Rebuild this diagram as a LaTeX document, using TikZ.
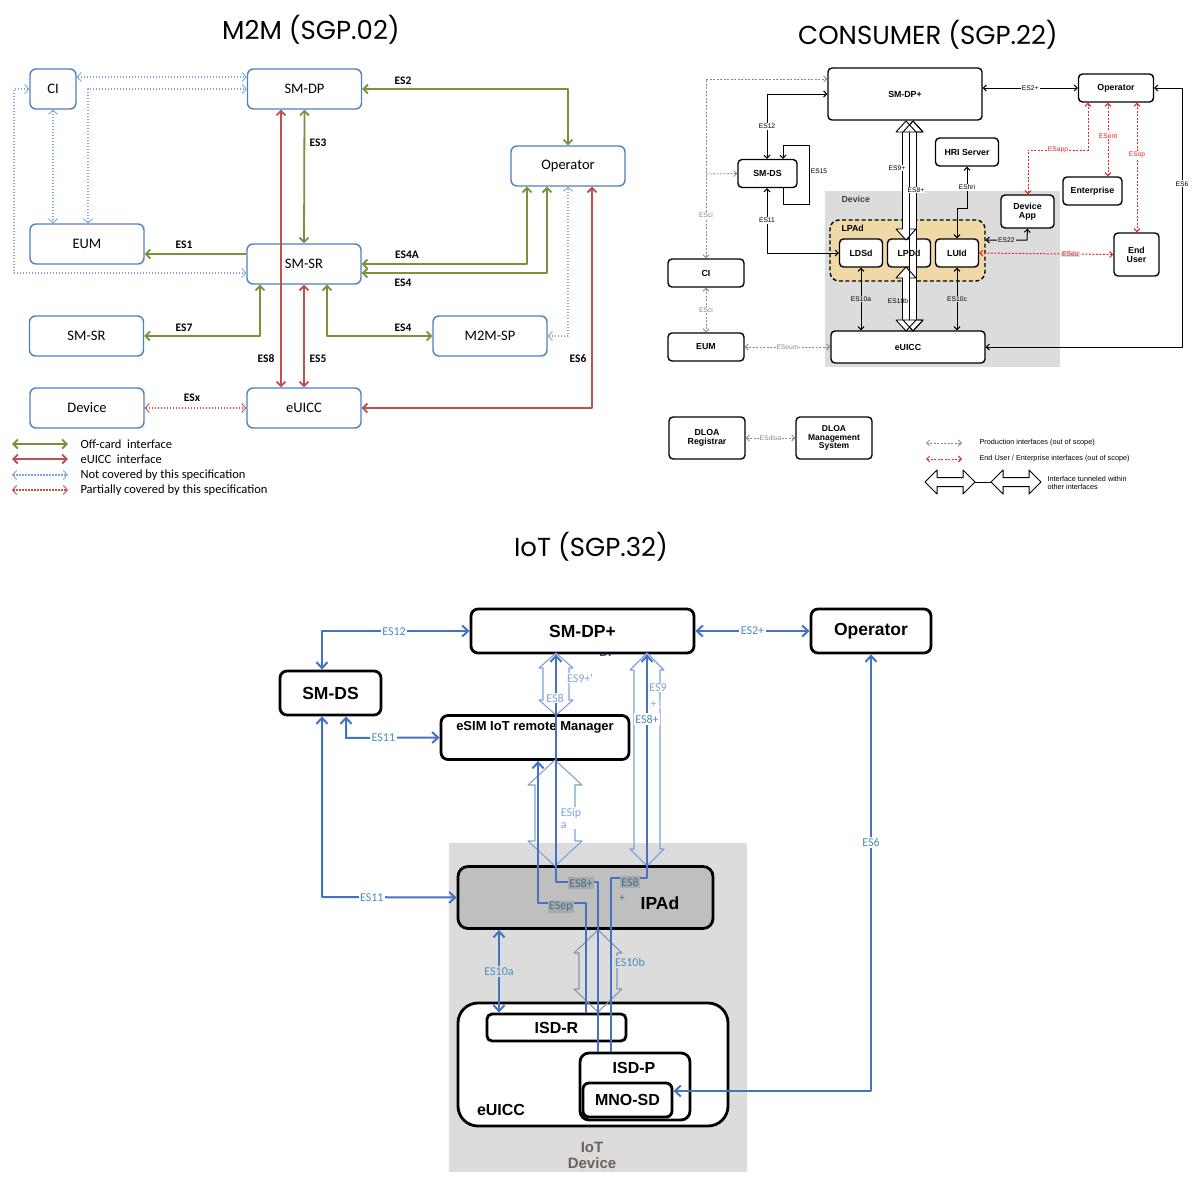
\documentclass[tikz,border=0pt]{standalone}
\usepackage{fontspec}
\setmainfont{Liberation Sans}
\newfontfamily\popf{Poppins}
\newfontfamily\carf{Carlito}
\usetikzlibrary{arrows.meta,calc}
\newcommand\fsz[1]{\fontsize{#1}{#1}\selectfont}
\definecolor{mblue}{HTML}{4F81BD}
\definecolor{mgreen}{HTML}{77933C}
\definecolor{mred}{HTML}{C0504D}
\definecolor{mdot}{HTML}{7FA6D6}
\definecolor{iblue}{HTML}{4472C4}
\definecolor{ilab}{HTML}{4A8DB8}
\definecolor{ihol}{HTML}{7FA2DA}
\definecolor{cgray}{HTML}{8A8A8A}
\definecolor{cred}{HTML}{E8262B}
\definecolor{lpadc}{HTML}{EFD9A6}
\definecolor{devgray}{HTML}{DCDCDC}
\definecolor{ipadc}{HTML}{BFBFBF}
\definecolor{tagc}{HTML}{A9A9A9}
\newcommand\hollowV[7][]{%
  \draw[#1] ({#2-#5},{#3+#7}) -- ({#2-#6},{#3+#7}) -- (#2,#3) -- ({#2+#6},{#3+#7}) -- ({#2+#5},{#3+#7})
   -- ({#2+#5},{#4-#7}) -- ({#2+#6},{#4-#7}) -- (#2,#4) -- ({#2-#6},{#4-#7}) -- ({#2-#5},{#4-#7}) -- cycle;}
\newcommand\hollowH[7][]{%
  \draw[#1] ({#3+#7},{#2-#5}) -- ({#3+#7},{#2-#6}) -- (#3,#2) -- ({#3+#7},{#2+#6}) -- ({#3+#7},{#2+#5})
   -- ({#4-#7},{#2+#5}) -- ({#4-#7},{#2+#6}) -- (#4,#2) -- ({#4-#7},{#2-#6}) -- ({#4-#7},{#2-#5}) -- cycle;}
\begin{document}
\begin{tikzpicture}[x=1pt,y=-1pt,line join=round]
\useasboundingbox (0,0) rectangle (1200,1183);
\fill[white] (0,0) rectangle (1200,1183);

% ---------- titles
\node[font=\popf\fsz{26}] (t1) at (311,30) {M2M (SGP.02)};
\node[font=\popf\fsz{26}] (t2) at (928,35) {CONSUMER (SGP.22)};
\node[font=\popf\fsz{26}] (t3) at (591,547) {IoT (SGP.32)};

% ================= M2M =================
\begin{scope}[>={Straight Barb[length=4.5pt,width=9pt]},
  mbox/.style={draw=mblue, line width=1.4pt, rounded corners=6pt, fill=white, minimum width=114pt, minimum height=40pt, inner sep=0pt, font=\carf\fsz{14.5}},
  mlab/.style={font=\carf\bfseries\fsz{11.5}},
  gl/.style={draw=mgreen, line width=1.8pt},
  rl/.style={draw=mred, line width=1.8pt},
  bdot/.style={draw=mdot, line width=1.2pt, dash pattern=on 1.6pt off 1.4pt, >={Straight Barb[length=4pt,width=9pt,line width=0.9pt]}},
  rdot/.style={draw=mred, line width=1.1pt, dash pattern=on 1.6pt off 1.4pt, >={Straight Barb[length=4pt,width=9pt,line width=0.9pt]}}]
\node[mbox, minimum width=46pt] (ci) at (53,89) {CI};
\node[mbox] (smdp) at (304.5,89) {SM-DP};
\node[mbox] (op) at (568,166) {Operator};
\node[mbox] (eum) at (87,244) {EUM};
\node[mbox] (smsr) at (304,264) {SM-SR};
\node[mbox] (smsr2) at (86.5,336) {SM-SR};
\node[mbox] (m2msp) at (490,336) {M2M-SP};
\node[mbox] (dev) at (87,408) {Device};
\node[mbox] (euicc) at (304,408) {eUICC};

\draw[bdot,<->] (ci.east |- 0,77) -- (smdp.west |- 0,77);
\draw[bdot,<->] (eum.north -| 88,0) -- (88,89) -- (smdp.west);
\draw[bdot,<->] (ci.south) -- (eum.north -| ci.south);
\draw[bdot,<->] (ci.west) -- (14,89) -- (14,273) -- (smsr.west |- 0,273);
\draw[bdot,<->] (m2msp.east) -- (568,336) -- (op.south);
\draw[rdot,<->] (dev.east) -- (euicc.west);

\draw[gl,<->] (smdp.east) -- (568,89) -- (op.north);
\draw[gl,<->] (smdp.south) -- (smsr.north);
\draw[gl,->] (smsr.west |- 0,254) -- (eum.east |- 0,254);
\draw[gl,<->] (smsr.east) -- (527,264) -- (op.south -| 527,0);
\draw[gl,<->] (smsr.east |- 0,273) -- (547,273) -- (op.south -| 547,0);
\draw[gl,<->] (smsr.south -| 260,0) -- (260,336) -- (smsr2.east);
\draw[gl,<->] (smsr.south -| 327,0) -- (327,336) -- (m2msp.west);
\draw[rl,<->] (smdp.south -| 281,0) -- (euicc.north -| 281,0);
\draw[rl,<->] (smsr.south) -- (euicc.north);
\draw[rl,<->] (euicc.east) -- (592,408) -- (op.south -| 592,0);

\node[mlab] (l_es2) at (403,81) {ES2};
\node[mlab] (l_es3) at (318,143) {ES3};
\node[mlab] (l_es1) at (184,245) {ES1};
\node[mlab] (l_es4a) at (407,255) {ES4A};
\node[mlab] (l_es4) at (403,283) {ES4};
\node[mlab] (l_es7) at (184,328) {ES7};
\node[mlab] (l_es4b) at (403,328) {ES4};
\node[mlab] (l_es8) at (266,359) {ES8};
\node[mlab] (l_es5) at (318,359) {ES5};
\node[mlab] (l_es6) at (578,359) {ES6};
\node[mlab] (l_esx) at (192,398) {ESx};

\coordinate (lg1a) at (12,444); \coordinate (lg1b) at (68,444);
\coordinate (lg2a) at (12,459); \coordinate (lg2b) at (68,459);
\coordinate (lg3a) at (12,475); \coordinate (lg3b) at (68,475);
\coordinate (lg4a) at (12,490); \coordinate (lg4b) at (68,490);
\draw[gl,<->] (lg1a) -- (lg1b);
\draw[rl,<->] (lg2a) -- (lg2b);
\draw[bdot,<->] (lg3a) -- (lg3b);
\draw[rdot,<->] (lg4a) -- (lg4b);
\node[anchor=west, font=\carf\fsz{12.5}] (lt1) at (77,444) {Off-card\ \ interface};
\node[anchor=west, font=\carf\fsz{12.5}] (lt2) at (77,459) {eUICC\ \ interface};
\node[anchor=west, font=\carf\fsz{12.5}] (lt3) at (77,475) {Not covered by this specification};
\node[anchor=west, font=\carf\fsz{12.5}] (lt4) at (77,490) {Partially covered by this specification};
\end{scope}

% ================= CONSUMER =================
\begin{scope}[>={Straight Barb[length=3pt,width=6pt]},
  cbox/.style={draw, line width=1.4pt, rounded corners=4pt, fill=white, inner sep=0pt, align=center, font=\bfseries\fsz{8.8}},
  cl/.style={draw, line width=1pt},
  clab/.style={font=\fsz{6.7}, fill=white, inner sep=1pt},
  gdash/.style={draw=cgray, line width=0.8pt, dash pattern=on 2pt off 1.5pt},
  rdash/.style={draw=cred, line width=1pt, dash pattern=on 2pt off 1.5pt}]
\node[fill=devgray, minimum width=235pt, minimum height=176pt, inner sep=0pt] (cdev) at (942.5,279) {};
\node[anchor=west, font=\bfseries\fsz{8.8}, text=black!75] (cdevl) at (838,199) {Device};
\node[draw, line width=1.4pt, dash pattern=on 4pt off 2.5pt, fill=lpadc, rounded corners=9pt, minimum width=155pt, minimum height=61pt, inner sep=0pt] (lpad) at (907.5,250.5) {};
\node[anchor=west, font=\bfseries\fsz{8.8}] (lpadl) at (838,228) {LPAd};

\node[cbox, minimum width=154pt, minimum height=52pt] (csmdp) at (905,94) {SM-DP+};
\node[cbox, minimum width=75pt, minimum height=28pt] (cop) at (1116,88) {Operator};
\node[cbox, minimum width=59pt, minimum height=28pt] (csmds) at (767.5,173.5) {SM-DS};
\node[cbox, minimum width=63pt, minimum height=28pt] (hri) at (967,152) {HRI Server};
\node[cbox, minimum width=59pt, minimum height=28pt] (ent) at (1092.5,191) {Enterprise};
\node[cbox, minimum width=53pt, minimum height=33pt] (dapp) at (1027.5,211.5) {Device\\App};
\node[cbox, minimum width=43pt, minimum height=28pt] (ldsd) at (861,253) {LDSd};
\node[cbox, minimum width=43pt, minimum height=28pt] (lpdd) at (909,253) {};
\node[cbox, minimum width=43pt, minimum height=28pt] (luid) at (957,253) {LUId};
\node[cbox, minimum width=76pt, minimum height=28pt] (cci) at (706,273) {CI};
\node[cbox, minimum width=76pt, minimum height=28pt] (ceum) at (706,347) {EUM};
\node[cbox, minimum width=154pt, minimum height=32pt] (ceuicc) at (908,347) {eUICC};
\node[cbox, minimum width=45pt, minimum height=43pt] (ceu) at (1136.5,254.5) {End\\User};
\node[cbox, minimum width=76pt, minimum height=42pt] (dreg) at (707,438) {DLOA\\Registrar};
\node[cbox, minimum width=76pt, minimum height=42pt, font=\bfseries\fsz{8.5}] (dman) at (834,438) {DLOA\\Management\\System};

% hollow tunnels
\hollowV[fill=white, line width=0.9pt]{913}{121}{331}{3.5}{10}{11}
\hollowV[fill=white, line width=0.9pt]{906}{121}{240}{3.5}{10}{11}
\hollowV[fill=white, line width=0.9pt]{906}{267}{331}{3.5}{10}{11}
\hollowV[line width=0.9pt]{913}{121}{331}{3.5}{10}{11}
\node[font=\bfseries\fsz{8.8}] (lpddl) at (lpdd) {LPDd};
\node[clab] (l_c9) at (897,168) {ES9+};
\node[clab] (l_c8) at (916,190) {ES8+};
\node[font=\fsz{6.7}] (l_c10b) at (898,301) {ES10b};

\draw[cl,<->] (csmdp.east |- cop.west) -- node[clab]{ES2+} (cop.west);
\draw[cl,<->] (cop.east) -- (1182,88) -- node[clab, pos=0.37]{ES6} (1182,347) -- (ceuicc.east);
\draw[cl,<->] (csmdp.west |- 0,94) -- (767,94) -- node[clab]{ES12} (csmds.north -| 767,0);
\draw[cl,->] (csmds.south -| 783,0) -- (783,204) -- (809,204) -- node[clab, pos=0.55, fill=none, xshift=10pt]{ES15} (809,145) -- (783,145) -- (csmds.north -| 783,0);
\draw[cl,<->] (csmds.south -| 767,0) -- node[clab, pos=0.5]{ES11} (767,253) -- (ldsd.west);
\draw[cl,<->] (hri.south) -- node[clab]{EShri} (967,208) -- (957,208) -- (luid.north);
\draw[cl,<->] (ldsd.south) -- node[font=\fsz{6.7}, fill=devgray, inner sep=1pt]{ES10a} (ceuicc.north -| ldsd.south);
\draw[cl,<->] (luid.south) -- node[font=\fsz{6.7}, fill=devgray, inner sep=1pt]{ES10c} (ceuicc.north -| luid.south);
\draw[cl,<->] (dapp.south) -- (1027,240) -- node[clab, fill=devgray]{ES22} (lpad.east |- 0,240);

\draw[gdash,<->] (cci.north) -- node[clab, text=cgray, pos=0.24]{ESci} (706,79) -- (csmdp.west |- 0,79);
\draw[gdash,->] (706,174) -- (csmds.west);
\draw[gdash,<->] (cci.south) -- node[clab, text=cgray]{ESci} (ceum.north);
\draw[gdash,<->] (ceum.east) -- node[clab, text=cgray]{ESeum} (ceuicc.west);
\draw[gdash,<->] (dreg.east) -- node[clab, text=cgray]{ESdloa} (dman.west);

\draw[rdash,<->] (cop.south -| 1088,0) -- (1088,150) -- node[clab, text=cred]{ESapp} (1028,150) -- (dapp.north -| 1028,0);
\draw[rdash,<->] (cop.south -| 1108,0) -- node[clab, text=cred, pos=0.45]{ESent} (ent.north -| 1108,0);
\draw[rdash,<->] (cop.south -| 1137,0) -- node[clab, text=cred, pos=0.4]{ESop} (ceu.north -| 1137,0);
\draw[rdash,<->] (luid.east) -- node[clab, text=cred, pos=0.68, fill=devgray]{ESeu} (ceu.west);

% legend
\coordinate (cg1a) at (926,443); \coordinate (cg1b) at (962,443);
\coordinate (cg2a) at (926,459); \coordinate (cg2b) at (962,459);
\draw[gdash,<->] (cg1a) -- (cg1b);
\draw[rdash,<->] (cg2a) -- (cg2b);
\node[anchor=west, font=\fsz{7.3}] (ct1) at (976,443) {Production interfaces (out of scope)};
\node[anchor=west, font=\fsz{7.3}] (ct2) at (976,459) {End User / Enterprise interfaces (out of scope)};
\hollowH[line width=1pt]{482}{925}{975}{4.5}{12}{12}
\hollowH[line width=1pt]{482}{991}{1041}{4.5}{12}{12}
\coordinate (ch1) at (975,482); \coordinate (ch2) at (991,482);
\draw[line width=0.8pt] (ch1) -- (ch2);
\node[anchor=west, font=\fsz{7.3}, align=left] (ct3) at (1044,483) {Interface tunneled within\\other interfaces};
\end{scope}

% ================= IoT =================
\begin{scope}[>={Straight Barb[length=6pt,width=11pt]},
  ibox/.style={draw, line width=2.8pt, rounded corners=7pt, fill=white, inner sep=0pt, font=\bfseries\fsz{17.5}},
  bl/.style={draw=iblue, line width=2pt},
  ilb/.style={font=\carf\fsz{12}, text=ilab, fill=white, inner sep=1.5pt},
  hol/.style={draw=ihol, line width=1.1pt},
  tag/.style={fill=tagc, text=ilab!80!black, font=\carf\fsz{12}, inner sep=1.5pt}]
\node[fill=devgray, minimum width=298pt, minimum height=329pt, inner sep=0pt] (idev) at (598,1007) {};
\node[font=\bfseries\fsz{15}, text={rgb,255:red,110;green,98;blue,88}, align=center] (idevl) at (592,1155) {IoT\\[1pt]Device};

\node[font=\bfseries\fsz{12}, text={rgb,255:red,112;green,48;blue,160}] (dr) at (606,652) {Dr};
\node[ibox, minimum width=223pt, minimum height=44pt] (ismdp) at (582.5,631) {SM-DP+};
\node[ibox, minimum width=120pt, minimum height=44pt] (iop) at (871,631) {Operator};
\node[ibox, minimum width=101pt, minimum height=44pt] (ismds) at (330.5,693) {SM-DS};
\node[ibox, minimum width=188pt, minimum height=44pt] (imgr) at (535,737.5) {};
\node[font=\bfseries\fsz{13}] (imgrl) at (535,727) {eSIM IoT remote Manager};
\node[ibox, fill=ipadc, minimum width=255pt, minimum height=62pt, rounded corners=10pt] (ipad) at (585.5,897.5) {};
\node[font=\bfseries\fsz{17.5}] (ipadl) at (660,903) {IPAd};
\node[ibox, minimum width=270pt, minimum height=123pt, rounded corners=20pt] (ieuicc) at (593,1064.5) {};
\node[font=\bfseries\fsz{16}] (ieuiccl) at (501,1110) {eUICC};
\node[ibox, minimum width=139pt, minimum height=27pt, rounded corners=5pt, font=\bfseries\fsz{16}] (isdr) at (556.5,1027.5) {ISD-R};
\node[ibox, minimum width=110pt, minimum height=67pt, rounded corners=9pt] (isdp) at (635,1086.5) {};
\node[font=\bfseries\fsz{16}] (isdpl) at (634,1068) {ISD-P};
\node[ibox, minimum width=89pt, minimum height=34pt, rounded corners=6pt, font=\bfseries\fsz{16}] (mnosd) at (627.5,1100) {MNO-SD};

% hollow arrows
\hollowV[hol]{556}{653}{715}{13}{17}{15}
\hollowV[hol]{555}{760}{866}{20}{27}{25}
\hollowV[hol]{647}{653}{866}{13}{17}{17}
\hollowV[draw={rgb,255:red,130;green,150;blue,180}, line width=1.1pt]{598}{930}{1012}{19}{24}{23}

% blue connectors
\draw[bl,<->] (ismdp.west) -- (322,631) -- (ismds.north -| 322,0);
\node[ilb] (l_i12) at (394,632) {ES12};
\draw[bl,<->] (ismdp.east) -- node[ilb]{ES2+} (iop.west);
\draw[bl,<->] (ismds.south -| 346,0) -- (346,738) -- node[ilb, pos=0.4]{ES11} (imgr.west);
\draw[bl,<->] (ismds.south -| 322,0) -- (322,897) -- node[ilb, pos=0.37]{ES11} (ipad.west);
\draw[bl,<->] (iop.south) -- node[ilb, pos=0.43]{ES6} (871,1091) -- (mnosd.east |- 0,1091);
\draw[bl,<->] (ipad.south -| 499,0) -- node[ilb, fill=devgray]{ES10a} (isdr.north -| 499,0);
\draw[bl,<-] (ismdp.south -| 556,0) -- (556,882) -- (598,882) -- (isdp.north -| 598,0);
\draw[bl,<-] (imgr.south -| 538,0) -- (538,903) -- (586,903) -- (isdr.north -| 586,0);
\draw[bl,<-] (ismdp.south -| 647,0) -- (647,878) -- (611,878) -- (isdp.north -| 611,0);

\node[font=\carf\fsz{12}, text=ihol, fill=white, inner sep=0.5pt] (l_i9a) at (580,678) {ES9+'};
\node[font=\carf\fsz{12}, text=ihol, fill=white, inner sep=0.5pt] (l_i8a) at (555,698) {ES8};
\node[font=\carf\fsz{12}, text=ihol, fill=white, inner sep=0.5pt] (l_i9b) at (658,688) {ES9};
\node[font=\carf\fsz{11}, text=ihol, fill=white, inner sep=0.5pt] (l_i9c) at (656,704) {+ I};
\node[ilb] (l_i8b) at (647,719) {ES8+};
\node[font=\carf\fsz{12}, text=ihol, fill=white, inner sep=0.5pt, align=left] (l_ipa) at (571,818) {ESip\\a};
\node[tag] (t_es8p) at (581,883) {ES8+};
\node[tag] (t_esep) at (561,907) {ESep};
\node[tag] (t_es8) at (630,882) {ES8};
\node[font=\carf\fsz{11}, text=ilab!80!black] (t_plus) at (622,898) {+};
\node[ilb, fill=devgray] (l_i10b) at (630,962) {ES10b};
\end{scope}
\end{tikzpicture}
\end{document}
